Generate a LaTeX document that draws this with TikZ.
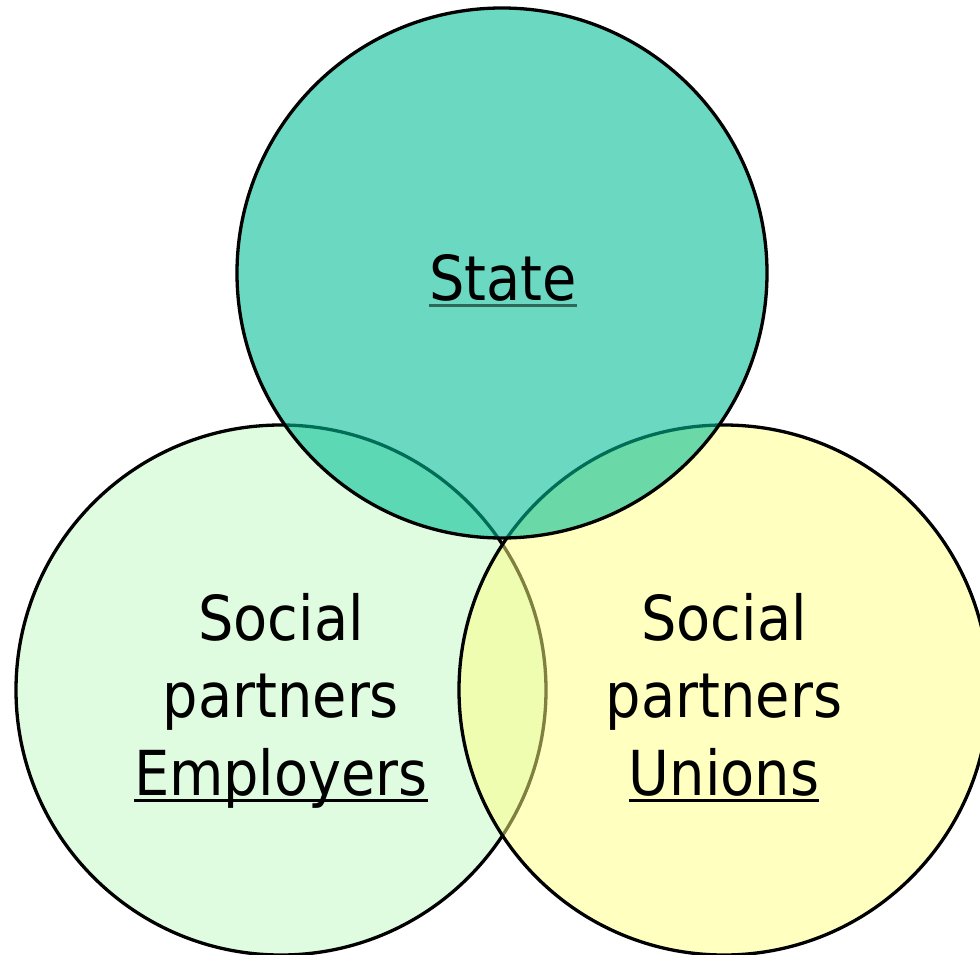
\documentclass[tikz,border=0pt]{standalone}
\usepackage{fontspec}
\setmainfont{DejaVu Sans Condensed}
\definecolor{statefill}{RGB}{0,190,150}
\definecolor{empfill}{RGB}{224,252,224}
\definecolor{unifill}{RGB}{255,255,129}
\definecolor{stateul}{RGB}{48,104,88}
\newcommand\myul[2][black]{\leavevmode\setbox0\hbox{#2}\rlap{\textcolor{#1}{\rule[-7pt]{\wd0}{3.4pt}}}\box0}
\tikzset{
  venn/.style={circle, draw=black, line width=3.3pt, minimum size=530pt, inner sep=0pt, outer sep=0pt},
  lbl/.style={anchor=base, inner sep=0pt, font=\fontsize{62}{78}\selectfont, text=black}
}
\begin{document}
\begin{tikzpicture}[x=1pt,y=-1pt]
\useasboundingbox (0,0) rectangle (980,955);
\node[venn, fill=empfill] (emp) at (281,690) {};
\node[venn, fill=unifill, fill opacity=0.5] (uni) at (724,690) {};
\node[venn, fill=statefill, fill opacity=0.58] (state) at (502,273) {};
\node[lbl] (statetxt) at (503,300) {\myul[stateul]{State}};
\node[lbl] (lsoc) at (281,640) {Social};
\node[lbl] (lpart) at (281,717) {partners};
\node[lbl] (lemp) at (281,795) {\myul{Employers}};
\node[lbl] (rsoc) at (724,640) {Social};
\node[lbl] (rpart) at (724,717) {partners};
\node[lbl] (runi) at (724,795) {\myul{Unions}};
\end{tikzpicture}
\end{document}
